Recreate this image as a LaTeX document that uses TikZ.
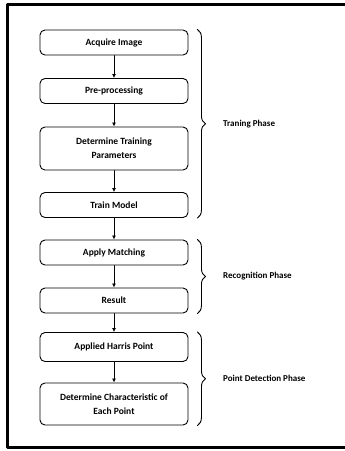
\documentclass[tikz,border=0pt]{standalone}
\usepackage{fontspec}
\setmainfont{Carlito}
\usetikzlibrary{arrows.meta,decorations.pathreplacing}

\tikzset{
    stage/.style={draw, rounded corners=5pt, line width=0.9pt, minimum width=148pt,
        minimum height=25pt, align=center, font=\fontsize{9.5}{14}\selectfont\bfseries,
        inner sep=2pt},
    flow/.style={-{Latex[length=4pt,width=4pt]}, line width=0.8pt},
    phasebrace/.style={decorate, decoration={brace, amplitude=8pt}, line width=0.9pt},
    phaselabel/.style={anchor=west, font=\fontsize{9}{11}\selectfont\bfseries}
}

\begin{document}
\begin{tikzpicture}[x=1pt, y=-1pt, line cap=round, line join=round]
        % page size (pixels of the reference)
        \useasboundingbox (0,0) rectangle (345,451);

        % parameters
        \def\xc{114}    % centre of the stage column
        \def\bx{9}      % gap between boxes and braces

        % outer frame (open on the right)
        \draw[line width=3pt] (345,4) -- (7.5,4) -- (7.5,447) -- (345,447);

        % stages
        \node[stage] (acquire)  at (\xc,42.5)  {Acquire Image};
        \node[stage] (preproc)  at (\xc,91)    {Pre-processing};
        \node[stage, minimum height=43pt] (params) at (\xc,148.5) {Determine Training\\Parameters};
        \node[stage] (train)    at (\xc,205)   {Train Model};
        \node[stage] (matching) at (\xc,252.5) {Apply Matching};
        \node[stage] (result)   at (\xc,300.5) {Result};
        \node[stage, minimum height=29pt] (harris) at (\xc,347) {Applied Harris Point};
        \node[stage, minimum height=42pt] (charac) at (\xc,404) {Determine Characteristic of\\Each Point};

        % connectors
        \foreach \a/\b in {acquire/preproc, preproc/params, params/train, train/matching,
                           matching/result, result/harris, harris/charac}{
            \draw[flow] (\a) -- (\b);
        }

        % phases
        \draw[phasebrace] ([xshift=\bx pt]acquire.north east) -- ([xshift=\bx pt]train.south east)
            node[phaselabel, midway, xshift=22pt] (training) {Traning Phase};
        \draw[phasebrace] ([xshift=\bx pt]matching.north east) -- ([xshift=\bx pt]result.south east)
            node[phaselabel, midway, xshift=22pt] (recognition) {Recognition Phase};
        \draw[phasebrace] ([xshift=\bx pt]harris.north east) -- ([xshift=\bx pt]charac.south east)
            node[phaselabel, midway, xshift=22pt] (detection) {Point Detection Phase};
\end{tikzpicture}
\end{document}
